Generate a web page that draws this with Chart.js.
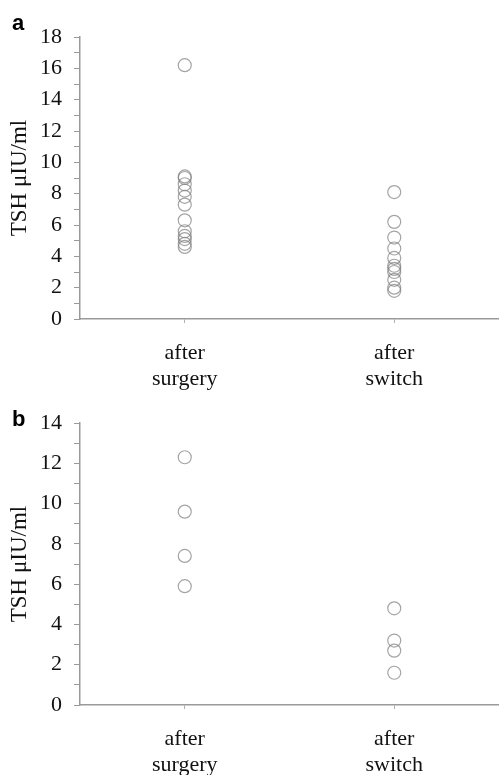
<!DOCTYPE html>
<html>
<head>
<meta charset="utf-8">
<script src="https://cdn.jsdelivr.net/npm/chart.js@4/dist/chart.umd.min.js"></script>
<style>
    body { margin: 0; background: #fff; }
    .panel { position: relative; width: 499px; }
    .panel canvas { display: block; }
    .tag { position: absolute; left: 12px; font: bold 22px "Liberation Sans", Arial, sans-serif; color: #000; z-index: 2; }
</style>
</head>
<body>
<!-- panel a canvas is a bit taller so the second label line is not cut -->
<div class="panel" style="height:390px">
    <div class="tag" style="top:10px">a</div>
    <canvas id="chartA" width="499" height="398"></canvas>
</div>
<div class="panel" style="height:385px">
    <div class="tag" style="top:16px">b</div>
    <canvas id="chartB" width="499" height="385"></canvas>
</div>
<script>
//categories on the x axis (two lines each)
const groups = [['after', 'surgery'], ['after', 'switch']];

//panel a: TSH values
const surgeryA = [16.2, 9.1, 9.0, 8.6, 8.2, 7.8, 7.3, 6.3, 5.6, 5.3, 5.1, 4.8, 4.6];
const switchA = [8.1, 6.2, 5.2, 4.5, 3.9, 3.4, 3.2, 3.0, 2.5, 2.0, 1.8];

//panel b
const surgeryB = [12.3, 9.6, 7.4, 5.9];
const switchB = [4.8, 3.2, 2.7, 1.6];

const serif = '"Liberation Serif", "Times New Roman", serif';
const axisGray = '#9a9a9a';

//each value becomes a point on its group position (0 or 1)
const toPoints = (values, idx) => values.map((v) => ({ x: idx, y: v }));

const pointSet = (values, idx) => ({
    data: toPoints(values, idx),
    pointStyle: 'circle',
    pointRadius: 6.5,
    pointBackgroundColor: 'rgba(0,0,0,0)',
    pointBorderColor: 'rgba(125,125,125,0.7)',
    pointBorderWidth: 1.2,
    showLine: false,
});

const makeChart = (id, yMax, top, xHeight, surgery, switched) => {
    return new Chart(document.getElementById(id), {
        type: 'scatter',
        data: {
            datasets: [pointSet(surgery, 0), pointSet(switched, 1)],
        },
        options: {
            responsive: false,
            animation: false,
            //no extra room for the point radius, axis runs to the right edge
            layout: { autoPadding: false, padding: { top: top, right: 0, bottom: 0, left: 0 } },
            plugins: {
                legend: { display: false },
                tooltip: { enabled: false },
            },
            scales: {
                x: {
                    type: 'linear',
                    min: -0.5,
                    max: 1.5,
                    //only the two group positions get a tick
                    afterBuildTicks: (s) => { s.ticks = [{ value: 0 }, { value: 1 }]; },
                    grid: {
                        drawOnChartArea: false,
                        tickLength: 4,
                        tickColor: '#b0b0b0',
                    },
                    border: { color: axisGray, width: 1.5 },
                    ticks: {
                        callback: (v) => groups[v] || '',
                        font: { family: serif, size: 22, lineHeight: 1.15 },
                        color: '#111',
                        padding: 18,
                        maxRotation: 0,
                    },
                    afterFit: (s) => {
                        s.height = xHeight;
                        s.paddingLeft = 0;
                        s.paddingRight = 0;
                    },
                },
                y: {
                    min: 0,
                    max: yMax,
                    grid: {
                        drawOnChartArea: false,
                        tickLength: 6,
                        tickColor: axisGray,
                    },
                    border: { color: axisGray, width: 1.5 },
                    ticks: {
                        stepSize: 1,
                        autoSkip: false,
                        //only even values get a label, odd ones are minor ticks
                        callback: (v) => (v % 2 === 0 ? v : ''),
                        font: { family: serif, size: 22 },
                        color: '#111',
                        padding: 12,
                    },
                    title: {
                        display: true,
                        text: 'TSH μIU/ml',
                        font: { family: serif, size: 23 },
                        color: '#111',
                        padding: { top: 6, bottom: 0 },
                    },
                    afterFit: (s) => { s.width = 80; },
                },
            },
        },
    });
};

makeChart('chartA', 18, 37, 79, surgeryA, switchA);
makeChart('chartB', 14, 33, 70, surgeryB, switchB);
</script>
</body>
</html>
